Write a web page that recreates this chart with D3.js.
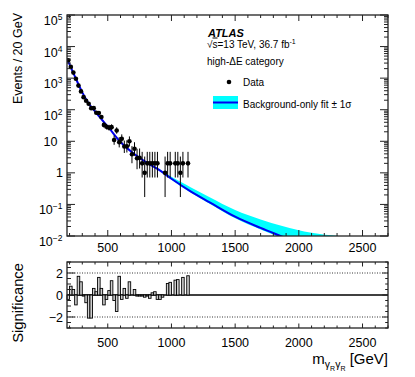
<!DOCTYPE html>
<html>
<head>
<meta charset="utf-8">
<script src="https://cdn.jsdelivr.net/npm/d3@7"></script>
<style>
body { margin: 0; background: #fff; }
text { font-family: "Liberation Sans", Arial, sans-serif; fill: #000; }
</style>
</head>
<body>
<div id="app"></div>
<script>
// binning of the data (GeV)
const binLow = 180, binWidth = 20;

// observed events per 20 GeV bin, from 180 GeV upwards
const counts = [3700, 2270, 1500, 960, 580, 380, 250, 193, 155, 112,
  112, 80, 79, 59, 33, 29, 27, 28, 11, 22,
  9.4, 12, 6.8, 7, 10, 3.9, 5.8, 2.9, 3, 2,
  1, 2, 2, 2, 2, 2, 0, 0, 1, 2,
  2, 0, 2, 2, 1, 2, 0, 2];

// significance per bin (lower panel)
const significance = [-0.4, 0.8, 0.5, -0.9, 1.7, 1.2, -0.1, -0.7, -2.1, -2.1,
  0.6, 0.3, 1.6, 0.6, -0.9, -0.4, 0.4, 1.3, -0.5, -1.5,
  1.7, -0.4, 0.6, -0.3, 1.2, 0.0, 0.5, -0.1, -0.1, -0.1,
  -0.2, -0.1, -0.3, 0.2, 0.3, -0.4, -0.4, -0.2, 0.0, 1.05,
  1.15, 0, 1.35, 1.4, 0, 1.6, 0, 1.75];

// background-only fit and its +-1 sigma band (multiplicative)
const fitMass   = [180, 250, 300, 350, 400, 450, 500, 600, 700, 800, 900, 1000, 1150, 1300, 1500, 1700, 1870, 2100, 2400, 2700];
const fitEvents = [4170, 955, 355, 158, 88, 50, 29.5, 9.5, 4.2, 2.2, 1.26, 0.65, 0.26, 0.117, 0.041, 0.018, 0.0095, 0.004, 0.0014, 0.0005];
const bandHi    = [1.023, 1.023, 1.023, 1.023, 1.023, 1.023, 1.023, 1.023, 1.023, 1.023, 1.072, 1.148, 1.349, 1.445, 1.622, 1.862, 2.188, 3.162, 6.607, 14.13];
const bandLo    = [0.977, 0.977, 0.977, 0.977, 0.977, 0.977, 0.977, 0.977, 0.977, 0.977, 0.955, 0.933, 0.912, 0.902, 0.891, 0.891, 0.891, 0.871, 0.851, 0.832];

const xMajor = [500, 1000, 1500, 2000, 2500];
const yDecades = [-2, -1, 0, 1, 2, 3, 4, 5];
const sigMajor = [-2, 0, 2];

const full = { width: 415, height: 377 };
const upper = { left: 67, right: 388, top: 15, bottom: 236 };
const lower = { left: 67, right: 388, top: 262, bottom: 328 };

const svg = d3.select("#app").append("svg")
  .attr("width", full.width).attr("height", full.height);

const x = d3.scaleLinear().domain([180, 2700]).range([upper.left, upper.right]);
const y = d3.scaleLog().domain([1e-2, 1e5]).range([upper.bottom, upper.top]);
const ys = d3.scaleLinear().domain([-3, 3]).range([lower.bottom, lower.top]);

svg.append("clipPath").attr("id", "clipTop")
  .append("rect").attr("x", upper.left).attr("y", upper.top)
  .attr("width", upper.right - upper.left).attr("height", upper.bottom - upper.top);

// ---- upper panel: band + fit
const fit = fitMass.map((m, i) => ({ m, v: fitEvents[i], hi: fitEvents[i] * bandHi[i], lo: fitEvents[i] * bandLo[i] }));

svg.append("path")
  .datum(fit)
  .attr("clip-path", "url(#clipTop)")
  .attr("fill", "#00ffff")
  .attr("d", d3.area().x(d => x(d.m)).y0(d => y(d.lo)).y1(d => y(d.hi)).curve(d3.curveMonotoneX));

svg.append("path")
  .datum(fit)
  .attr("clip-path", "url(#clipTop)")
  .attr("fill", "none")
  .attr("stroke", "#0000f0")
  .attr("stroke-width", 2)
  .attr("d", d3.line().x(d => x(d.m)).y(d => y(d.v)).curve(d3.curveMonotoneX));

// ---- data points with poisson errors
const poisLo = n => n * Math.pow(1 - 1 / (9 * n) - 1 / (3 * Math.sqrt(n)), 3);
const poisHi = n => (n + 1) * Math.pow(1 - 1 / (9 * (n + 1)) + 1 / (3 * Math.sqrt(n + 1)), 3);

const pts = counts.map((n, i) => ({ c: binLow + binWidth * (i + 0.5), n }))
  .filter(d => d.n > 0);

const gData = svg.append("g").attr("clip-path", "url(#clipTop)");
gData.selectAll(".ey").data(pts).join("line")
  .attr("x1", d => x(d.c)).attr("x2", d => x(d.c))
  .attr("y1", d => y(poisLo(d.n))).attr("y2", d => y(poisHi(d.n)))
  .attr("stroke", "#000").attr("stroke-width", 1);
gData.selectAll(".ex").data(pts).join("line")
  .attr("x1", d => x(d.c - binWidth / 2)).attr("x2", d => x(d.c + binWidth / 2))
  .attr("y1", d => y(d.n)).attr("y2", d => y(d.n))
  .attr("stroke", "#000").attr("stroke-width", 1);
gData.selectAll("circle").data(pts).join("circle")
  .attr("cx", d => x(d.c)).attr("cy", d => y(d.n)).attr("r", 2.3)
  .attr("fill", "#000");

// ---- lower panel
svg.append("line")
  .attr("x1", lower.left).attr("x2", lower.right)
  .attr("y1", ys(0)).attr("y2", ys(0))
  .attr("stroke", "#000").attr("stroke-width", 1.3);

[-2, 2].forEach(v => svg.append("line")
  .attr("x1", lower.left).attr("x2", lower.right)
  .attr("y1", ys(v)).attr("y2", ys(v))
  .attr("stroke", "#000").attr("stroke-width", 0.8)
  .attr("stroke-dasharray", "1,1.5"));

svg.append("g").selectAll("rect")
  .data(significance.map((s, i) => ({ s, i })).filter(d => d.s !== 0))
  .join("rect")
  .attr("x", d => x(binLow + binWidth * d.i))
  .attr("width", x(binLow + binWidth) - x(binLow))
  .attr("y", d => Math.min(ys(0), ys(d.s)))
  .attr("height", d => Math.abs(ys(d.s) - ys(0)))
  .attr("fill", "#cfcfcf")
  .attr("stroke", "#000")
  .attr("stroke-width", 0.9);

// ---- frames and ticks
const frame = (p) => svg.append("rect")
  .attr("x", p.left).attr("y", p.top)
  .attr("width", p.right - p.left).attr("height", p.bottom - p.top)
  .attr("fill", "none").attr("stroke", "#222").attr("stroke-width", 1.3);

const tick = (x1, y1, x2, y2) => svg.append("line")
  .attr("x1", x1).attr("y1", y1).attr("x2", x2).attr("y2", y2)
  .attr("stroke", "#222").attr("stroke-width", 1);

const xMinor = d3.range(200, 2701, 100);

// x ticks on both panels
[[upper, 6, 3], [lower, 4.5, 2.5]].forEach(([p, big, small]) => {
  xMinor.forEach(v => {
    const len = xMajor.includes(v) ? big : small;
    tick(x(v), p.bottom, x(v), p.bottom - len);
    tick(x(v), p.top, x(v), p.top + len);
  });
});

// log y ticks
yDecades.forEach(d => {
  const v = Math.pow(10, d);
  tick(upper.left, y(v), upper.left + 8, y(v));
  tick(upper.right, y(v), upper.right - 8, y(v));
  if (d < 5) d3.range(2, 10).forEach(m => {
    const yy = y(m * v);
    tick(upper.left, yy, upper.left + 4, yy);
    tick(upper.right, yy, upper.right - 4, yy);
  });
});

// significance ticks
d3.range(-3, 3.01, 0.5).forEach(v => {
  const len = sigMajor.includes(v) ? 8 : 4;
  tick(lower.left, ys(v), lower.left + len, ys(v));
  tick(lower.right, ys(v), lower.right - len * 0.7, ys(v));
});

frame(upper);
frame(lower);

// ---- tick labels
[upper.bottom + 15.5, lower.bottom + 18.5].forEach(yy => {
  svg.append("g").selectAll("text").data(xMajor).join("text")
    .attr("x", d => x(d)).attr("y", yy)
    .attr("text-anchor", "middle").attr("font-size", 12.5)
    .text(d => d);
});

yDecades.forEach(d => {
  const yy = y(Math.pow(10, d));
  const t = svg.append("text").attr("text-anchor", "end").attr("font-size", 12.5);
  if (d === 0 || d === 1) {
    t.attr("x", d === 0 ? 63 : 57.5).attr("y", yy + 4.5).text(d === 0 ? "1" : "10");
  } else {
    t.attr("x", 62.5).attr("y", yy + 10);
    t.append("tspan").text("10");
    t.append("tspan").attr("font-size", 8.5).attr("dy", -5)
      .text(d < 0 ? "\u2212" + Math.abs(d) : d);
  }
});

svg.append("g").selectAll("text").data(sigMajor).join("text")
  .attr("x", 63).attr("y", d => ys(d) + 4.5)
  .attr("text-anchor", "end").attr("font-size", 12.5)
  .text(d => d < 0 ? "\u2212" + Math.abs(d) : d);

// ---- axis titles
svg.append("text")
  .attr("transform", "translate(22,13) rotate(-90)")
  .attr("text-anchor", "end").attr("font-size", 12.5)
  .text("Events / 20 GeV");

svg.append("text")
  .attr("transform", "translate(22.5,263) rotate(-90)")
  .attr("text-anchor", "end").attr("font-size", 14.8)
  .text("Significance");

const xt = svg.append("text").attr("x", 388).attr("y", 364)
  .attr("text-anchor", "end").attr("font-size", 15);
xt.append("tspan").text("m");
xt.append("tspan").attr("font-size", 10.5).attr("dy", 4).text("\u03b3");
xt.append("tspan").attr("font-size", 7).attr("dy", 2.5).text("R");
xt.append("tspan").attr("font-size", 10.5).attr("dy", -2.5).text("\u03b3");
xt.append("tspan").attr("font-size", 7).attr("dy", 2.5).text("R");
xt.append("tspan").attr("dy", -6.5).text(" [GeV]");

// ---- labels and legend
svg.append("text").attr("x", 208).attr("y", 37)
  .attr("font-size", 11).attr("font-weight", "bold").attr("font-style", "italic")
  .text("ATLAS");

const lumi = svg.append("text").attr("x", 207).attr("y", 47.5).attr("font-size", 10);
lumi.append("tspan").text("\u221a");
lumi.append("tspan").attr("text-decoration", "overline").text("s");
lumi.append("tspan").text("=13 TeV, 36.7 fb");
lumi.append("tspan").attr("font-size", 7).attr("dy", -4).text("-1");

svg.append("text").attr("x", 207).attr("y", 64.5).attr("font-size", 10)
  .text("high-\u0394E category");

svg.append("circle").attr("cx", 229).attr("cy", 82).attr("r", 2.3).attr("fill", "#000");
svg.append("text").attr("x", 243).attr("y", 85.5).attr("font-size", 10).text("Data");

svg.append("rect").attr("x", 213).attr("y", 96).attr("width", 25).attr("height", 13)
  .attr("fill", "#00ffff");
svg.append("line").attr("x1", 213).attr("x2", 238).attr("y1", 102.5).attr("y2", 102.5)
  .attr("stroke", "#0000f0").attr("stroke-width", 2);
svg.append("text").attr("x", 243).attr("y", 108).attr("font-size", 10)
  .text("Background-only fit \u00b1 1\u03c3");
</script>
</body>
</html>
